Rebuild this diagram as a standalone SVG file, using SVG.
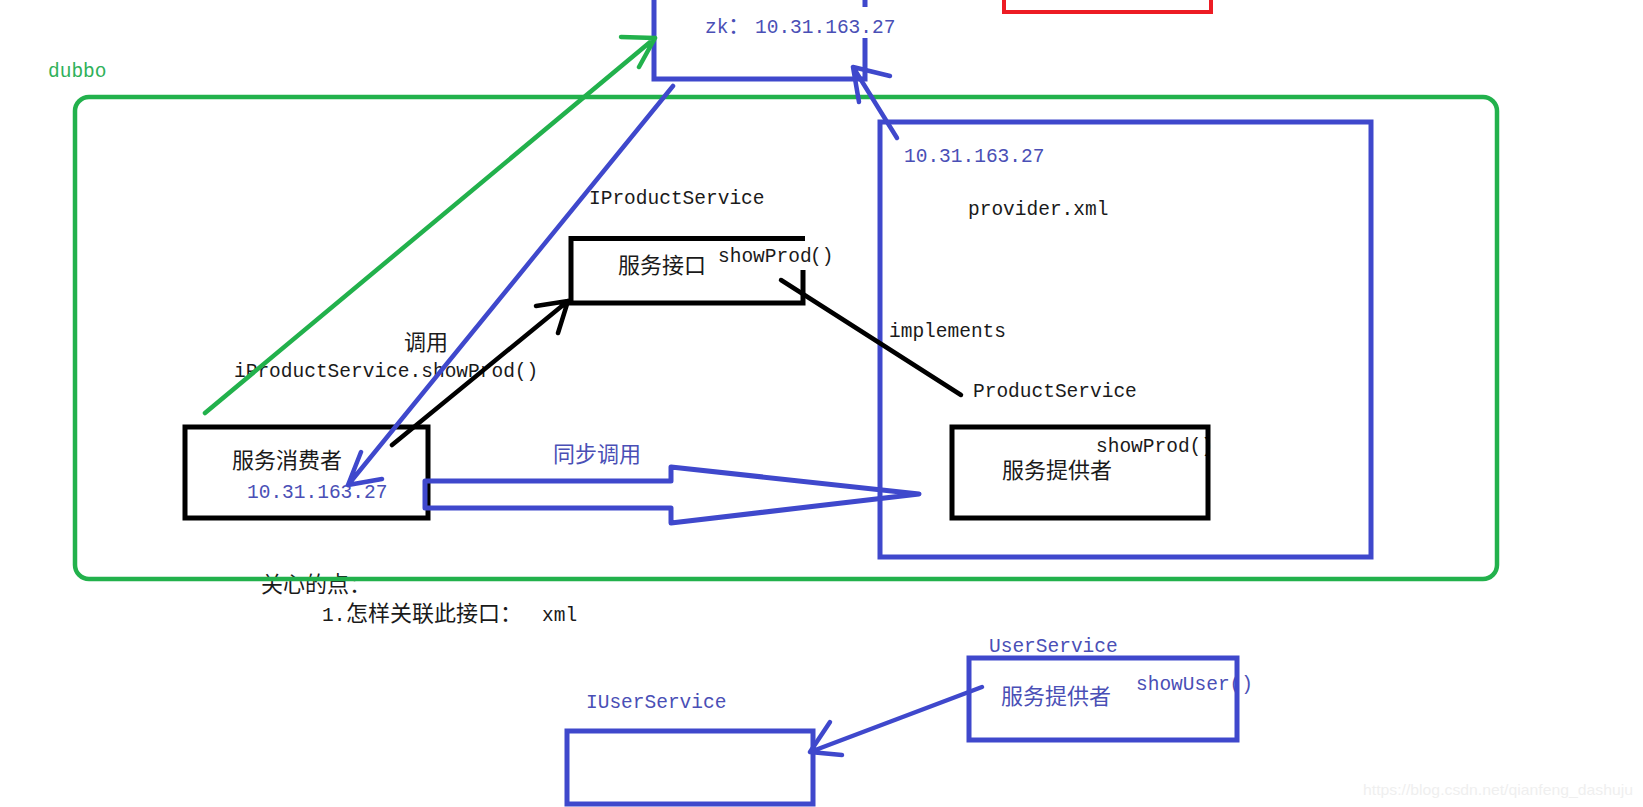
<svg xmlns="http://www.w3.org/2000/svg" width="1643" height="807" viewBox="0 0 1643 807">
<style>
.m{font-family:"Liberation Mono","DejaVu Sans Mono",monospace;font-size:19.5px}
.c{font-family:"Noto Sans CJK SC","Noto Sans",sans-serif;font-size:22px}
.k{fill:#1a1a1a}
.b{fill:#4a4fb6}
.g{fill:#2fb15a}
.bs{fill:none;stroke:#3F48CC;stroke-width:5}
.ks{fill:none;stroke:#000;stroke-width:5}
.ln{fill:none;stroke-width:4.5;stroke-linecap:round;stroke-linejoin:round}
</style>
<rect width="1643" height="807" fill="#fff"/>

<g id="labels">
<text class="m g" x="48" y="77">dubbo</text>
<text class="m k" x="589" y="204">IProductService</text>
<text class="c k" x="404" y="350">调用</text>
<text class="m k" x="234" y="377">iProductService.showProd()</text>
<text class="c b" x="553" y="462">同步调用</text>
<text class="m k" x="889" y="337">implements</text>
<text class="c k" x="261" y="592">关心的点：</text>
<text class="k" y="621"><tspan class="m" x="322">1.</tspan><tspan class="c" x="346">怎样关联此接口：</tspan><tspan class="m" x="542">xml</tspan></text>
<text x="1363" y="795" font-family="Liberation Sans, sans-serif" font-size="15" fill="#efefef" textLength="270" lengthAdjust="spacingAndGlyphs">https://blog.csdn.net/qianfeng_dashuju</text>
</g>

<g id="dubbo-container">
<rect x="75" y="97" width="1422" height="482" rx="14" fill="none" stroke="#22B14C" stroke-width="4.5"/>
</g>

<g id="zk">
<path class="bs" d="M865,-5 V7 M865,38 V79 H654 V-5"/>
<text class="b" y="33"><tspan class="m" x="705">zk</tspan><tspan class="c" x="728">：</tspan><tspan class="m" x="755">10.31.163.27</tspan></text>
</g>

<g id="red-box">
<rect x="1004" y="-10" width="207" height="22" fill="none" stroke="#ED1C24" stroke-width="4"/>
</g>

<g id="provider-area">
<rect class="bs" x="880" y="122" width="491" height="435"/>
<text class="m b" x="904" y="162">10.31.163.27</text>
<text class="m k" x="968" y="215">provider.xml</text>
<text class="m k" x="973" y="397">ProductService</text>
</g>

<g id="service-interface">
<text class="c k" x="618" y="273">服务接口</text>
<text class="m k" y="262"><tspan x="718">showProd</tspan><tspan x="810">()</tspan></text>
<path class="ks" d="M803,270 V303 H571 V238.5 H805"/>
</g>

<g id="consumer">
<rect class="ks" x="185" y="427" width="243" height="91"/>
<text class="c k" x="232" y="468">服务消费者</text>
<text class="m b" x="247" y="498">10.31.163.27</text>
</g>

<g id="provider">
<text class="m k" x="1096" y="452">showProd()</text>
<text class="c k" x="1002" y="478">服务提供者</text>
<rect class="ks" x="952" y="427" width="256" height="91"/>
</g>

<g id="user-service">
<text class="m b" x="989" y="652">UserService</text>
<text class="c b" x="1001" y="704">服务提供者</text>
<text class="m b" x="1136" y="690">showUser()</text>
<rect class="bs" x="969" y="658" width="268" height="82"/>
</g>

<g id="iuser-service">
<text class="m b" x="586" y="708">IUserService</text>
<rect class="bs" x="567" y="731" width="246" height="73"/>
</g>

<g id="connectors">
<path class="ln" stroke="#22B14C" d="M205,413 L655,38 M621,37 L655,38 L639,67"/>
<path class="ln" stroke="#3F48CC" d="M673,86 L348,485 M361,452 L348,485 L382,479"/>
<path class="ln" stroke="#3F48CC" d="M897,138 L853,67 M890,76 L853,67 L859,102"/>
<path class="ln" stroke="#000" stroke-width="5" d="M392,445 L568,301 M536,306 L568,301 L558,333"/>
<path class="ln" stroke="#000" stroke-width="5" d="M781,280 L961,395"/>
<path class="ln" stroke="#3F48CC" d="M982,687 L810,752 M830,722 L810,752 L842,755"/>
<path fill="none" stroke="#3F48CC" stroke-width="5" stroke-linejoin="round" d="M425,481 H671 V467 L919,494 L671,523 V508 H425 Z"/>
</g>
</svg>
